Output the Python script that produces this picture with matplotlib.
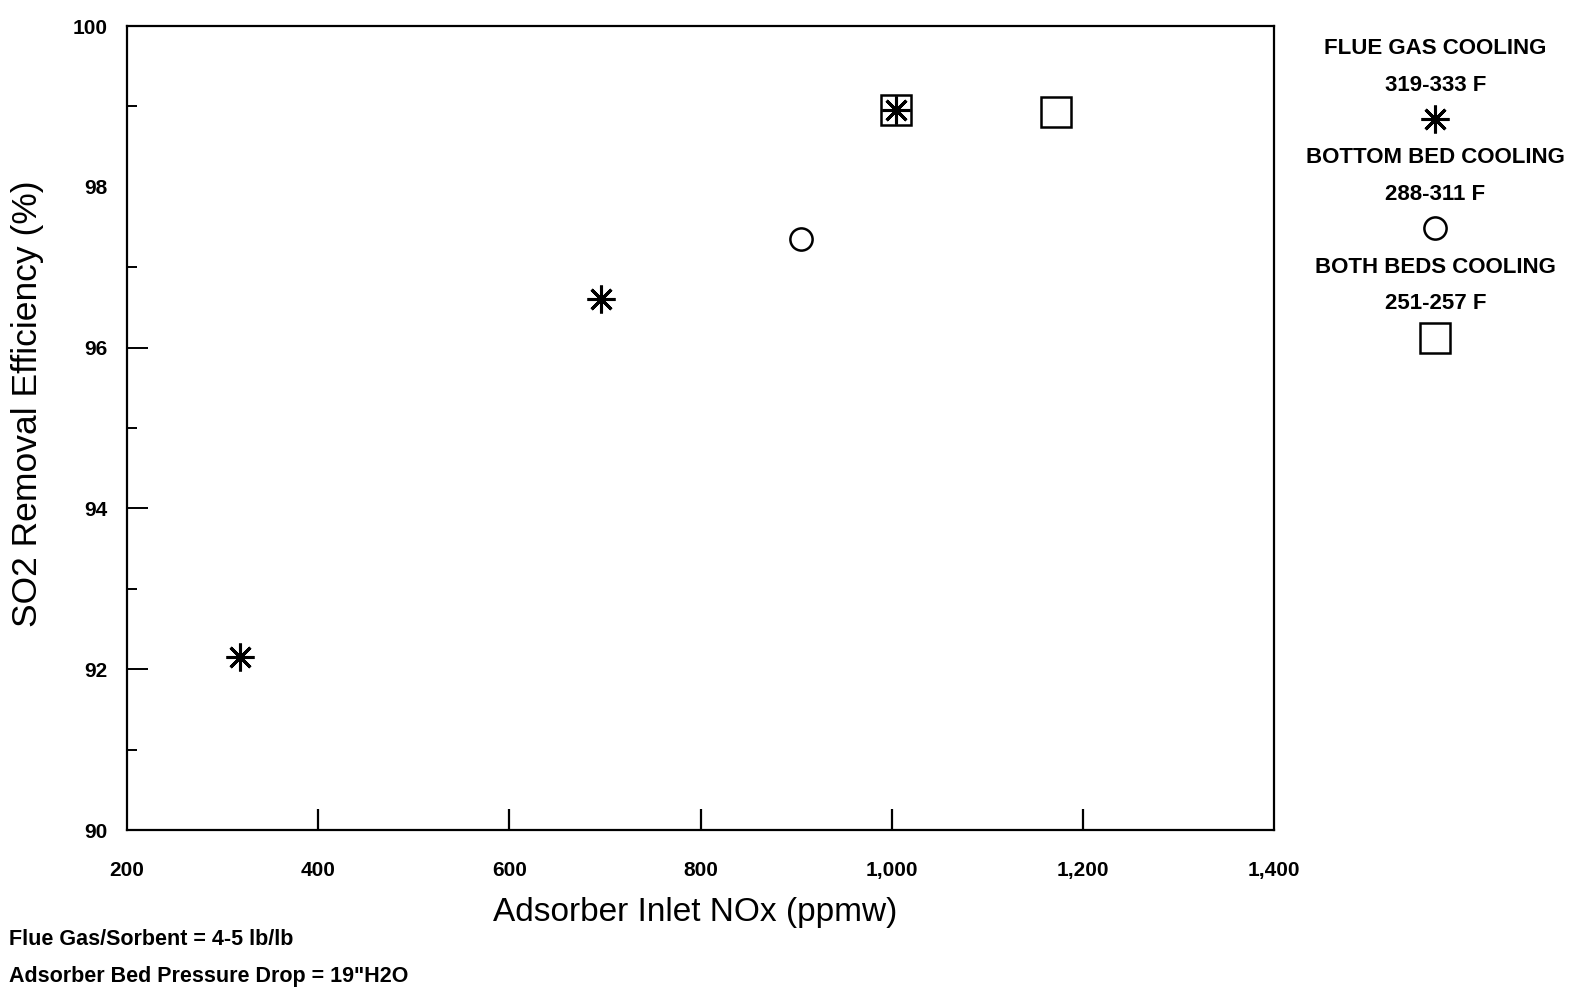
import matplotlib
matplotlib.use("Agg")
import matplotlib.pyplot as plt
from matplotlib.ticker import MultipleLocator, FixedLocator, FuncFormatter

plt.rcParams["font.family"] = ["Liberation Sans", "DejaVu Sans"]

# SO2 removal vs. adsorber inlet NOx, grouped by cooling mode
flue_gas_nox = [318, 696, 1005]
flue_gas_so2 = [92.15, 96.6, 98.95]

bottom_bed_nox = [905]
bottom_bed_so2 = [97.35]

both_beds_nox = [1005, 1172]
both_beds_so2 = [98.95, 98.93]

legend_names = ["FLUE GAS COOLING", "BOTTOM BED COOLING", "BOTH BEDS COOLING"]
legend_temps = ["319-333 F", "288-311 F", "251-257 F"]

notes = ["Flue Gas/Sorbent = 4-5 lb/lb", "Adsorber Bed Pressure Drop = 19\"H2O"]

STAR = (8, 2, 0)   # eight-spoke asterisk
STYLES = [
    dict(marker=STAR, ms=20, mew=2.2),
    dict(marker="o", ms=16, mew=1.8, mfc="none"),
    dict(marker="s", ms=22, mew=1.8, mfc="none"),
]

fig = plt.figure(figsize=(15.74, 9.93), dpi=100)
ax = fig.add_axes([0.0807, 0.1641, 0.7287, 0.8097])

ax.plot(both_beds_nox, both_beds_so2, ls="none", color="black", **STYLES[2])
ax.plot(flue_gas_nox, flue_gas_so2, ls="none", color="black", **STYLES[0])
ax.plot(bottom_bed_nox, bottom_bed_so2, ls="none", color="black", **STYLES[1])

ax.set_xlim(200, 1400)
ax.set_ylim(90, 100)
for s in ax.spines.values():
    s.set_linewidth(1.6)

# x: ticks only at the interior positions, labels at every 200
ax.xaxis.set_major_locator(FixedLocator([200, 400, 600, 800, 1000, 1200, 1400]))
ax.xaxis.set_major_formatter(FuncFormatter(lambda v, p: f"{int(v):,}"))
ax.tick_params(axis="x", direction="in", length=15, width=1.6, pad=22,
               labelsize=15)
for t in ax.xaxis.get_major_ticks()[::6]:
    t.tick1line.set_visible(False)

ax.yaxis.set_major_locator(MultipleLocator(2))
ax.yaxis.set_minor_locator(MultipleLocator(1))
ax.tick_params(axis="y", which="major", direction="in", length=15, width=1.4,
               pad=14, labelsize=15)
ax.tick_params(axis="y", which="minor", direction="in", length=7, width=1.4)
for t in ax.yaxis.get_major_ticks()[::5]:
    t.tick1line.set_visible(False)
for lab in ax.get_xticklabels() + ax.get_yticklabels():
    lab.set_fontweight("bold")

ax.set_xlabel("Adsorber Inlet NOx (ppmw)", fontsize=24)
ax.set_ylabel("SO2 Removal Efficiency (%)", fontsize=25.5)
ax.xaxis.set_label_coords(0.495, -0.083)
ax.yaxis.set_label_coords(-0.072, 0.53)

# key on the right: name, temperature range, then the symbol
cx = 0.912
row_y = [0.951, 0.914, 0.880]
step = 0.110
for i, (name, temp) in enumerate(zip(legend_names, legend_temps)):
    off = i * step
    fig.text(cx, row_y[0] - off, name, ha="center", va="center",
             fontsize=16, fontweight="bold")
    fig.text(cx, row_y[1] - off, temp, ha="center", va="center",
             fontsize=16, fontweight="bold")
    fig.add_artist(plt.Line2D([cx], [row_y[2] - off], transform=fig.transFigure,
                              color="black", ls="none", **STYLES[i]))

for j, note in enumerate(notes):
    fig.text(0.006, 0.054 - j * 0.037, note, ha="left", va="center",
             fontsize=15.5, fontweight="bold")

fig.savefig("out.png", dpi=100)
